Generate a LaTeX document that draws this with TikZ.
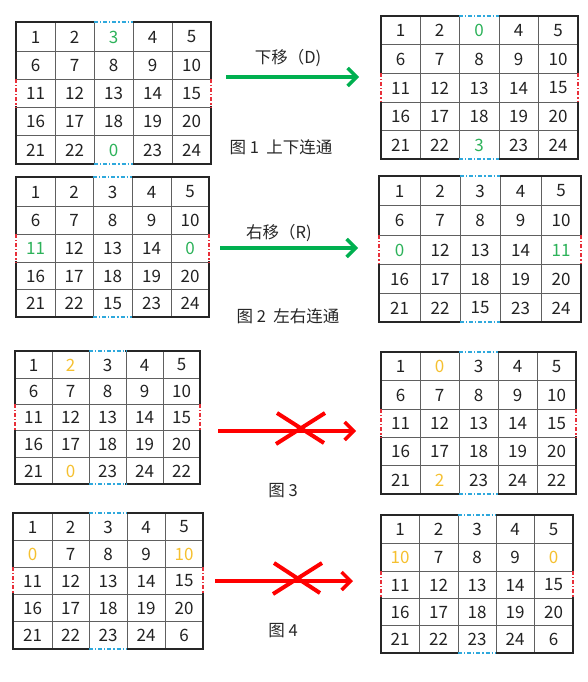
\documentclass[tikz,border=0pt]{standalone}
\usepackage{fontspec}
\setmainfont{Noto Sans CJK SC}
\usetikzlibrary{arrows.meta}
\definecolor{okgreen}{HTML}{00B050}
\definecolor{okyellow}{HTML}{FFC000}
\definecolor{okred}{HTML}{FF0000}
\definecolor{dashblue}{HTML}{2EA8DC}
\definecolor{dashred}{HTML}{E8303A}
\definecolor{k}{HTML}{222222}
\definecolor{g}{HTML}{2DB25A}
\definecolor{y}{HTML}{F5C030}
\tikzset{
  cellnum/.style={inner sep=0pt, font=\fontsize{17}{17}\selectfont},
  innerline/.style={draw=gray!75!black, line width=0.8pt},
  outerline/.style={draw=black!85, line width=1.6pt, line cap=rect},
  bluedash/.style={draw=dashblue, line width=1.3pt, dash pattern=on 4pt off 2pt on 1.2pt off 2pt},
  reddash/.style={draw=dashred, line width=1.3pt, dash pattern=on 4pt off 2pt on 1.2pt off 2pt},
  garrow/.style={draw=okgreen, line width=4pt, -{Straight Barb[length=9pt,width=18pt,line width=3.5pt]}},
  rarrow/.style={draw=okred, line width=4pt, -{Straight Barb[length=9pt,width=18pt,line width=3.5pt]}},
  rcross/.style={draw=okred, line width=4pt},
  lbl/.style={inner sep=0pt, font=\fontsize{16.5}{16.5}\selectfont, text=black!85},
}
\newcommand\pzgrid[4]{%
  \def\gx{{#2}}\def\gy{{#3}}%
  \foreach \t/\cl [count=\i from 0] in {#4}{%
    \pgfmathtruncatemacro\rr{\i/5}%
    \pgfmathtruncatemacro\cc{mod(\i,5)}%
    \pgfmathsetmacro\xa{\gx[\cc]}\pgfmathsetmacro\xb{\gx[\cc+1]}%
    \pgfmathsetmacro\ya{\gy[\rr]}\pgfmathsetmacro\yb{\gy[\rr+1]}%
    \node[cellnum,text=\cl] (#1-\i) at ({(\xa+\xb)/2},{(\ya+\yb)/2+0.5}) {\t};
  }%
  \pgfmathsetmacro\xA{\gx[0]}\pgfmathsetmacro\xB{\gx[2]}\pgfmathsetmacro\xC{\gx[3]}\pgfmathsetmacro\xD{\gx[5]}%
  \pgfmathsetmacro\yA{\gy[0]}\pgfmathsetmacro\yB{\gy[2]}\pgfmathsetmacro\yC{\gy[3]}\pgfmathsetmacro\yD{\gy[5]}%
  \foreach \j in {1,...,4}{%
    \pgfmathsetmacro\xx{\gx[\j]}\pgfmathsetmacro\yy{\gy[\j]}%
    \draw[innerline] (\xx,\yA) -- (\xx,\yD);
    \draw[innerline] (\xA,\yy) -- (\xD,\yy);
  }%
  \draw[outerline] (\xA,\yA) -- (\xB,\yA) (\xC,\yA) -- (\xD,\yA)
                   (\xA,\yD) -- (\xB,\yD) (\xC,\yD) -- (\xD,\yD)
                   (\xA,\yA) -- (\xA,\yB) (\xA,\yC) -- (\xA,\yD)
                   (\xD,\yA) -- (\xD,\yB) (\xD,\yC) -- (\xD,\yD);
  \draw[bluedash] (\xB,\yA) -- (\xC,\yA) (\xB,\yD) -- (\xC,\yD);
  \draw[reddash] (\xA,\yB) -- (\xA,\yC) (\xD,\yB) -- (\xD,\yC);
}
\begin{document}
\begin{tikzpicture}[x=1pt,y=-1pt]
\useasboundingbox (0,0) rectangle (588,682);
% Figure 1
\pzgrid{ga}{16,55,94,133,172,211}{22,51,79,107,135,164}{1/k,2/k,3/g,4/k,5/k,6/k,7/k,8/k,9/k,10/k,11/k,12/k,13/k,14/k,15/k,16/k,17/k,18/k,19/k,20/k,21/k,22/k,0/g,23/k,24/k}
\pzgrid{gb}{381,420,459,499,538,578}{16,44,73,102,130,159}{1/k,2/k,0/g,4/k,5/k,6/k,7/k,8/k,9/k,10/k,11/k,12/k,13/k,14/k,15/k,16/k,17/k,18/k,19/k,20/k,21/k,22/k,3/g,23/k,24/k}
\coordinate (a1s) at (226,77);
\coordinate (a1e) at (359,77);
\draw[garrow] (a1s) -- (a1e);
\node[lbl] (l1) at (288,58) {下移（D)};
\node[lbl] (c1) at (281,147) {图 1\ \ 上下连通};
% Figure 2
\pzgrid{gc}{16,55,93,132,171,209}{177,206,234,262,289,317}{1/k,2/k,3/k,4/k,5/k,6/k,7/k,8/k,9/k,10/k,11/g,12/k,13/k,14/k,0/g,16/k,17/k,18/k,19/k,20/k,21/k,22/k,15/k,23/k,24/k}
\pzgrid{gd}{379,420,460,500,541,581}{176,205,235,264,293,322}{1/k,2/k,3/k,4/k,5/k,6/k,7/k,8/k,9/k,10/k,0/g,12/k,13/k,14/k,11/g,16/k,17/k,18/k,19/k,20/k,21/k,22/k,15/k,23/k,24/k}
\coordinate (a2s) at (220,248);
\coordinate (a2e) at (358,248);
\draw[garrow] (a2s) -- (a2e);
\node[lbl] (l2) at (279,233) {右移（R)};
\node[lbl] (c2) at (288,316) {图 2\ \ 左右连通};
% Figure 3
\pzgrid{ge}{15,52,89,126,163,200}{351,378,404,430,457,484}{1/k,2/y,3/k,4/k,5/k,6/k,7/k,8/k,9/k,10/k,11/k,12/k,13/k,14/k,15/k,16/k,17/k,18/k,19/k,20/k,21/k,0/y,23/k,24/k,22/k}
\pzgrid{gf}{381,420,459,498,537,576}{352,380,409,437,465,494}{1/k,0/y,3/k,4/k,5/k,6/k,7/k,8/k,9/k,10/k,11/k,12/k,13/k,14/k,15/k,16/k,17/k,18/k,19/k,20/k,21/k,2/y,23/k,24/k,22/k}
\coordinate (a3s) at (218,431);
\coordinate (a3e) at (356,431);
\draw[rarrow] (a3s) -- (a3e);
\coordinate (x3a) at (277,413);
\coordinate (x3b) at (324,443);
\coordinate (x3c) at (276,444);
\coordinate (x3d) at (325,413);
\draw[rcross] (x3a) -- (x3b);
\draw[rcross] (x3c) -- (x3d);
\node[lbl] (c3) at (283,491) {图 3};
% Figure 4
\pzgrid{gg}{13,52,89,127,165,203}{513,540,567,594,621,649}{1/k,2/k,3/k,4/k,5/k,0/y,7/k,8/k,9/k,10/y,11/k,12/k,13/k,14/k,15/k,16/k,17/k,18/k,19/k,20/k,21/k,22/k,23/k,24/k,6/k}
\pzgrid{gh}{381,419,458,496,534,573}{515,543,571,598,625,653}{1/k,2/k,3/k,4/k,5/k,10/y,7/k,8/k,9/k,0/y,11/k,12/k,13/k,14/k,15/k,16/k,17/k,18/k,19/k,20/k,21/k,22/k,23/k,24/k,6/k}
\coordinate (a4s) at (215,581);
\coordinate (a4e) at (353,581);
\draw[rarrow] (a4s) -- (a4e);
\coordinate (x4a) at (274,563);
\coordinate (x4b) at (320,593);
\coordinate (x4c) at (273,594);
\coordinate (x4d) at (322,563);
\draw[rcross] (x4a) -- (x4b);
\draw[rcross] (x4c) -- (x4d);
\node[lbl] (c4) at (283,631) {图 4};
\end{tikzpicture}
\end{document}
